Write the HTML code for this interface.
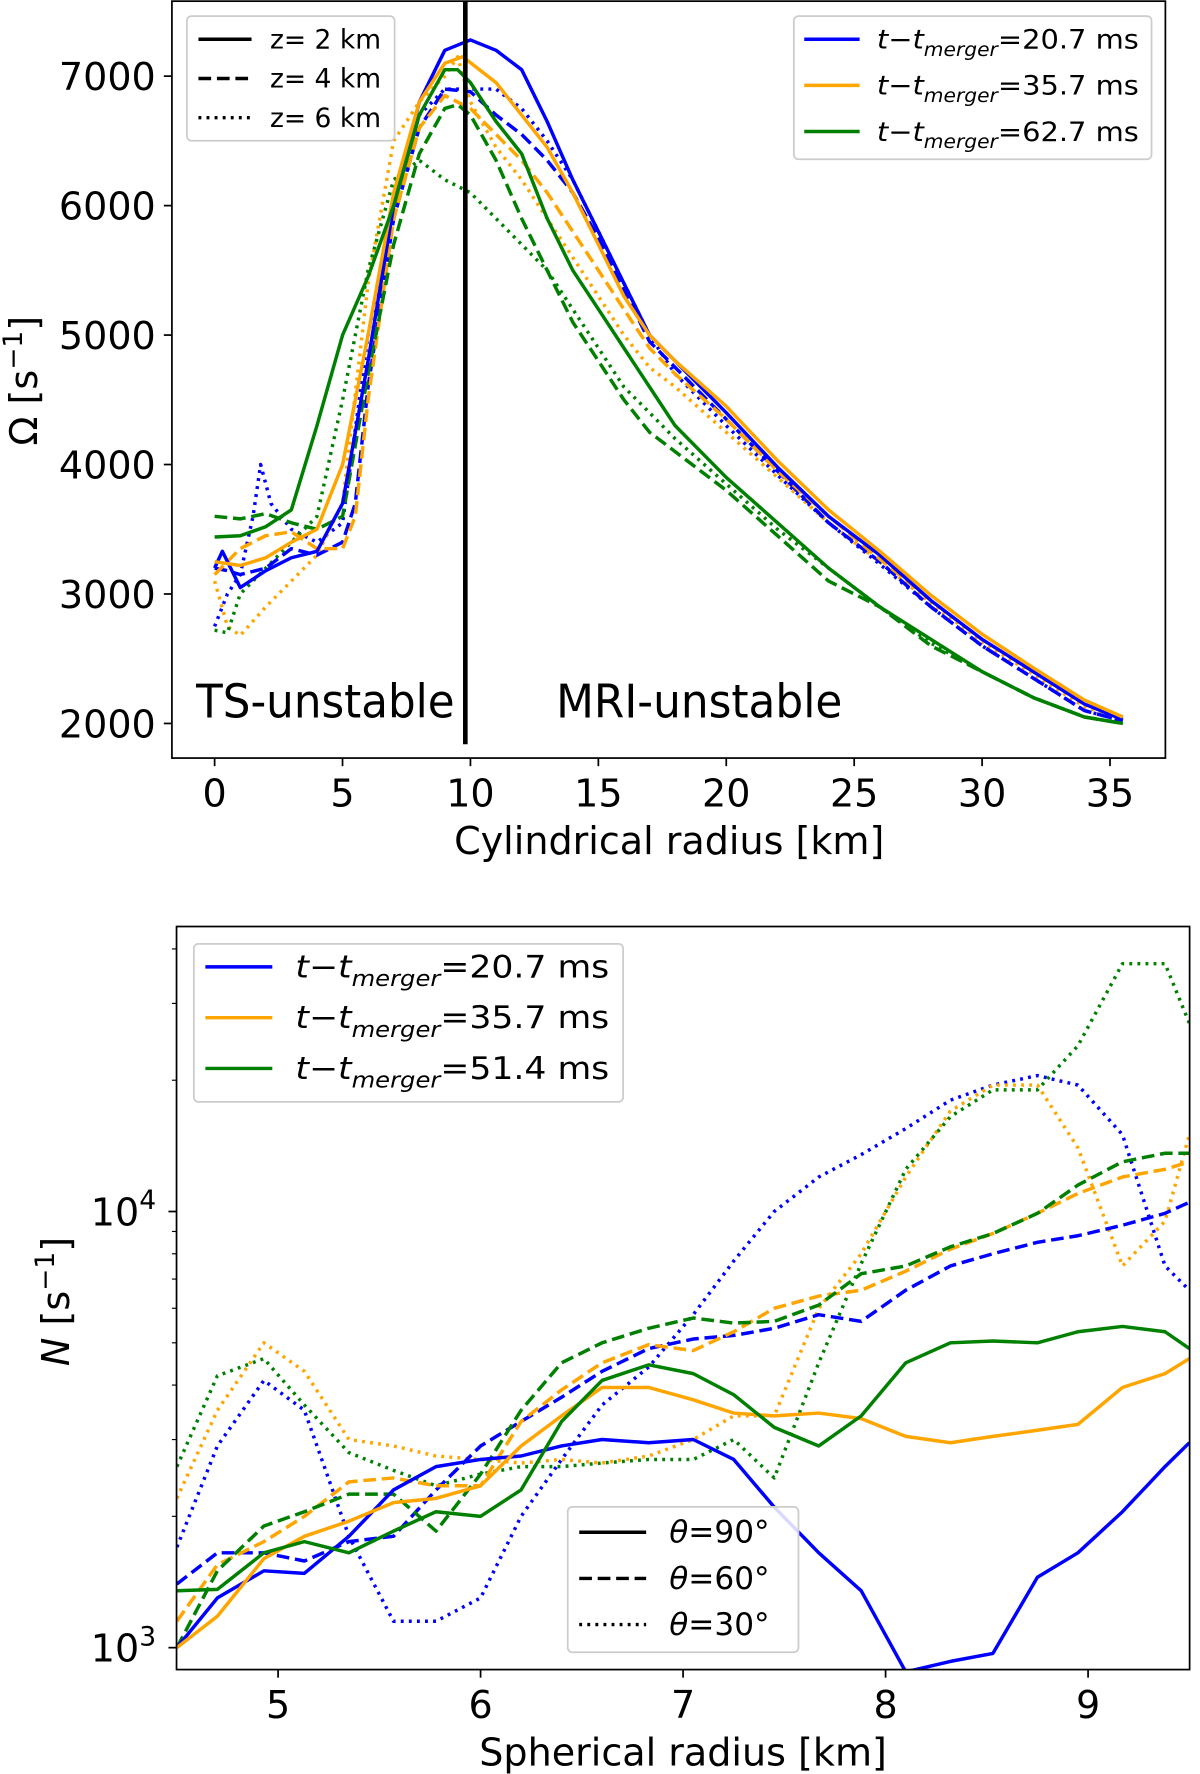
<!DOCTYPE html>
<html><head><meta charset="utf-8"><style>
html,body{margin:0;padding:0;background:#fff}
svg{display:block;font-family:"DejaVu Sans","Liberation Sans",sans-serif}
</style></head><body>
<svg id="fig" width="1200" height="1774" viewBox="0 0 1040 1537.5" preserveAspectRatio="none" xmlns="http://www.w3.org/2000/svg">
<g id="top"></g>
<g id="bot"></g>
</svg>
<script>
// ---- Top chart data ----
const topR = {
 b_s:[0,0.3,1,2,3,4,5,6,7,8,9,10,11,12,13,14,15,16,17,18,20,22,24,26,28,30,32,34,35.5],
 o_s:[0,1,2,3,4,5,6,7,8,9,9.7,11,12,13,14,15,16,17,18,20,22,24,26,28,30,32,34,35.5],
 g_s:[0,1,2,3,4,5,6,7,8,9,9.5,10,11,12,13,14,15,16,17,18,20,22,24,26,28,30,32,34,35.5],
 b_d:[0,0.5,1,2,3,4,5,5.5,6,7,8,9,10,11,12,13,14,15,16,17,18,20,22,24,26,28,30,32,34,35.5],
 o_d:[0,1,2,3,4,5,5.5,6,7,8,9,10,11,12,13,14,15,16,17,18,20,22,24,26,28,30,32,34,35.5],
 g_d:[0,1,2,3,4,5,6,7,8,9,9.5,10,11,12,13,14,15,16,17,18,20,22,24,26,28,30,32,34,35.5],
 b_o:[0,0.5,1,1.5,1.8,2.2,3,4,5,6,7,8,9,10,11,12,13,14,15,16,17,18,20,22,24,26,28,30,32,34,35.5],
 o_o:[0,0.5,1,2,3,4,5,6,7,8,9,9.5,10,11,12,13,14,15,16,17,18,20,22,24,26,28,30,32,34,35.5],
 g_o:[0,0.5,1,2,3,4,5,6,7,8,9,10,11,12,13,14,15,16,17,18,20,22,24,26,28,30,32,34,35.5]
};
const topOmega = {
 b_s:[3200,3330,3050,3180,3280,3330,3700,4800,6000,6800,7200,7280,7200,7050,6650,6200,5800,5400,5000,4800,4400,3980,3600,3300,2950,2650,2400,2150,2030],
 o_s:[3250,3220,3280,3400,3500,4000,5000,6100,6800,7100,7150,6950,6700,6450,6100,5700,5300,5000,4800,4450,4030,3650,3330,2990,2690,2430,2180,2050],
 g_s:[3440,3450,3520,3650,4300,5000,5450,6000,6700,7050,7050,6950,6650,6400,5900,5500,5200,4900,4600,4300,3900,3550,3200,2900,2650,2400,2200,2050,2000],
 b_d:[3200,3180,3150,3200,3350,3300,3400,3700,4600,5900,6600,6900,6880,6700,6550,6350,6100,5750,5350,4950,4750,4350,3950,3550,3250,2900,2600,2350,2100,2020],
 o_d:[3150,3350,3450,3480,3350,3350,3600,4500,5900,6600,6850,6750,6550,6350,6100,5800,5500,5200,4900,4700,4350,3950,3600,3270,2950,2650,2400,2150,2030],
 g_d:[3600,3580,3620,3550,3500,3600,4700,5700,6400,6750,6780,6700,6350,5900,5500,5100,4800,4500,4250,4100,3800,3450,3100,2900,2600,2400,2200,2050,2000],
 b_o:[2750,3000,3150,3600,4000,3700,3500,3400,3550,5000,6000,6700,6900,6900,6900,6750,6500,6200,5800,5400,5000,4700,4300,3920,3550,3230,2900,2600,2350,2100,2020],
 o_o:[3100,2750,2680,2900,3100,3300,3700,5400,6500,6800,7000,7150,6800,6450,6200,5900,5600,5300,5000,4750,4600,4250,3900,3550,3250,2930,2630,2380,2130,2030],
 g_o:[2720,2700,3000,3200,3400,3600,4500,5500,6200,6350,6200,6100,5900,5700,5500,5200,4900,4600,4400,4200,3850,3500,3200,2900,2620,2400,2200,2050,2000]
};
const topXTicks=[0,5,10,15,20,25,30,35];
const topYTicks=[2000,3000,4000,5000,6000,7000];
// ---- Bottom chart data ----
const botR=[4.5,4.7,4.93,5.13,5.35,5.57,5.78,6.0,6.2,6.4,6.6,6.83,7.05,7.25,7.45,7.67,7.88,8.1,8.32,8.53,8.75,8.95,9.17,9.38,9.5];
const botN={
 b_s:[1000,1300,1500,1480,1800,2300,2600,2700,2750,2900,3000,2950,3000,2700,2100,1650,1350,880,930,970,1450,1650,2050,2600,2950],
 o_s:[1000,1180,1600,1800,1950,2150,2200,2350,2900,3400,3950,3950,3700,3450,3400,3450,3350,3050,2950,3050,3150,3250,3950,4250,4600],
 g_s:[1350,1360,1650,1750,1650,1850,2050,2000,2300,3300,4100,4450,4250,3800,3200,2900,3400,4500,5000,5050,5000,5300,5450,5300,4850],
 b_d:[1400,1650,1650,1580,1750,1800,2300,2900,3300,3750,4300,4850,5100,5200,5400,5800,5600,6600,7500,8000,8500,8800,9300,9900,10500],
 o_d:[1150,1550,1750,2000,2400,2450,2350,2350,3300,3900,4500,4950,4800,5300,6000,6400,6600,7300,8200,8900,9900,11000,12000,12500,13000],
 g_d:[1000,1500,1900,2050,2250,2250,1850,2500,3500,4500,5000,5400,5700,5550,5600,6100,7200,7500,8300,8900,9900,11500,13000,13600,13600],
 b_o:[1700,2900,4100,3500,1800,1150,1150,1300,2000,2700,3600,4400,5800,7700,10000,12000,13500,15500,18000,19500,20500,19500,15000,7500,6600],
 o_o:[2200,3500,5000,4300,3000,2900,2750,2700,2650,2700,2650,2750,3000,3400,3400,6000,8000,12000,17000,19500,19500,14000,7500,9500,15000],
 g_o:[2600,4200,4600,3600,2800,2550,2350,2500,2600,2600,2650,2700,2700,3000,2450,4500,7600,12500,16500,19000,19000,24000,37000,37000,27000]
};
const botXTicks=[5,6,7,8,9];

const NS='http://www.w3.org/2000/svg';
const COL={b:'#0000ff',o:'#ffa500',g:'#008000'};
const DASH={s:'',d:'11,5',o:'2.5,4.5'};
function mk(parent,tag,attrs,txt){const e=document.createElementNS(NS,tag);for(const k in attrs)e.setAttribute(k,attrs[k]);if(txt!==undefined)e.textContent=txt;parent.appendChild(e);return e;}

// ===== top =====
const T=document.getElementById('top');
const tL=149,tR=1010,tT=1,tB=657;
const tx=v=>186+v*(962-186)/35;
const ty=v=>627-(v-2000)*(627-66)/5000;
const tclip=mk(T,'clipPath',{id:'tc'});mk(tclip,'rect',{x:tL,y:tT,width:tR-tL,height:tB-tT});
const tlines=mk(T,'g',{'clip-path':'url(#tc)'});
['o','d','s'].forEach(st=>['b','o','g'].forEach(c=>{
 const k=c+'_'+st;const xs=topR[k],ys=topOmega[k];
 const p=xs.map((x,i)=>(i?'L':'M')+tx(x).toFixed(1)+','+ty(ys[i]).toFixed(1)).join('');
 const el=mk(tlines,'path',{d:p,fill:'none',stroke:COL[c],'stroke-width':3,'stroke-dasharray':DASH[st],'stroke-linejoin':'round'});
 
 
}));
const vl=mk(T,'line',{x1:tx(9.8),x2:tx(9.8),y1:tT,y2:645,stroke:'#000','stroke-width':4});


mk(T,'rect',{x:tL,y:tT,width:tR-tL,height:tB-tT,fill:'none',stroke:'#000','stroke-width':1.5});
topXTicks.forEach(v=>{mk(T,'line',{x1:tx(v),x2:tx(v),y1:tB,y2:tB+7,stroke:'#000','stroke-width':1.5});
 const t=mk(T,'text',{x:tx(v),y:699,'font-size':33,'text-anchor':'middle'},String(v));
 
 });
topYTicks.forEach(v=>{mk(T,'line',{x1:tL-7,x2:tL,y1:ty(v),y2:ty(v),stroke:'#000','stroke-width':1.5});
 const t=mk(T,'text',{x:tL-14,y:ty(v)+12,'font-size':33,'text-anchor':'end'},String(v));
 
 });
const xt=mk(T,'text',{x:580,y:740,'font-size':33,'text-anchor':'middle'},'Cylindrical radius [km]');

const yt=mk(T,'text',{transform:'translate(32,330) rotate(-90)','font-size':33,'text-anchor':'middle'});

yt.innerHTML='Ω [s<tspan dy="-13" font-size="23">−1</tspan><tspan dy="13">]</tspan>';
const a1=mk(T,'text',{x:170,y:622,'font-size':40,textLength:224,lengthAdjust:'spacingAndGlyphs'},'TS-unstable');
const a2=mk(T,'text',{x:482,y:622,'font-size':40,textLength:248,lengthAdjust:'spacingAndGlyphs'},'MRI-unstable');

function tLabel(parent,x,y,fs,val,len){
 const t=mk(parent,'text',{x:x,y:y,'font-size':fs,textLength:len,lengthAdjust:'spacingAndGlyphs'});
 t.innerHTML='<tspan font-style="italic">t</tspan>−<tspan font-style="italic">t</tspan><tspan font-style="italic" font-size="'+(fs*0.7)+'" dy="'+(fs*0.28)+'">merger</tspan><tspan dy="'+(-fs*0.28)+'">='+val+' ms</tspan>';
 return t;
}
// top legends
const lg1=mk(T,'g',{});
mk(lg1,'rect',{x:162,y:14,width:180,height:108,rx:4,fill:'#fff',stroke:'#ccc','stroke-width':1.5,'fill-opacity':0.85});
[['s','z= 2 km'],['d','z= 4 km'],['o','z= 6 km']].forEach((e,i)=>{const y=34+i*34;
 mk(lg1,'line',{x1:172,x2:218,y1:y,y2:y,stroke:'#000','stroke-width':3,'stroke-dasharray':DASH[e[0]]});
 mk(lg1,'text',{x:234,y:y+8,'font-size':23},e[1]);});
const lg2=mk(T,'g',{});
mk(lg2,'rect',{x:688,y:14,width:310,height:124,rx:4,fill:'#fff',stroke:'#ccc','stroke-width':1.5,'fill-opacity':0.85});
[['b','20.7'],['o','35.7'],['g','62.7']].forEach((e,i)=>{const y=34+i*40;
 mk(lg2,'line',{x1:697,x2:745,y1:y,y2:y,stroke:COL[e[0]],'stroke-width':3});
 tLabel(lg2,760,y+8,23,e[1],227);});

// ===== bottom =====
const B=document.getElementById('bot');
const bL=153,bR=1031,bT=803,bB=1447;
const bx=v=>241+(v-5)*(943-241)/4;
const by=v=>1428-(Math.log10(v)-3)*378;
const bclip=mk(B,'clipPath',{id:'bc'});mk(bclip,'rect',{x:bL,y:bT,width:bR-bL,height:bB-bT});
const blines=mk(B,'g',{'clip-path':'url(#bc)'});
['o','d','s'].forEach(st=>['b','o','g'].forEach(c=>{
 const k=c+'_'+st;const ys=botN[k];
 const p=botR.map((x,i)=>(i?'L':'M')+bx(x).toFixed(1)+','+by(ys[i]).toFixed(1)).join('');
 const el=mk(blines,'path',{d:p,fill:'none',stroke:COL[c],'stroke-width':3,'stroke-dasharray':DASH[st],'stroke-linejoin':'round'});
 
 
}));
mk(B,'rect',{x:bL,y:bT,width:bR-bL,height:bB-bT,fill:'none',stroke:'#000','stroke-width':1.5});
botXTicks.forEach(v=>{mk(B,'line',{x1:bx(v),x2:bx(v),y1:bB,y2:bB+7,stroke:'#000','stroke-width':1.5});
 const t=mk(B,'text',{x:bx(v),y:1489,'font-size':33,'text-anchor':'middle'},String(v));
 
 });
[1000,10000].forEach(v=>{mk(B,'line',{x1:bL-7,x2:bL,y1:by(v),y2:by(v),stroke:'#000','stroke-width':1.5});
 const t=mk(B,'text',{x:bL-46,y:by(v)+12,'font-size':33,'text-anchor':'middle'});
 t.innerHTML='10<tspan dy="-14" font-size="23">'+(v===1000?3:4)+'</tspan>';
 
 });
[2000,3000,4000,5000,6000,7000,8000,9000,20000,30000,40000].forEach(v=>mk(B,'line',{x1:bL-4,x2:bL,y1:by(v),y2:by(v),stroke:'#000','stroke-width':1}));
const bxt=mk(B,'text',{x:592,y:1530,'font-size':33,'text-anchor':'middle'},'Spherical radius [km]');

const byt=mk(B,'text',{transform:'translate(60,1128) rotate(-90)','font-size':33,'text-anchor':'middle'});

byt.innerHTML='<tspan font-style="italic">N</tspan> [s<tspan dy="-13" font-size="23">−1</tspan><tspan dy="13">]</tspan>';
const lg3=mk(B,'g',{});
mk(lg3,'rect',{x:168,y:818,width:372,height:137,rx:4,fill:'#fff',stroke:'#ccc','stroke-width':1.5,'fill-opacity':0.85});
[['b','20.7'],['o','35.7'],['g','51.4']].forEach((e,i)=>{const y=838+i*44;
 mk(lg3,'line',{x1:178,x2:236,y1:y,y2:y,stroke:COL[e[0]],'stroke-width':3});
 tLabel(lg3,256,y+9,27,e[1],272);});
const lg4=mk(B,'g',{});
mk(lg4,'rect',{x:492,y:1306,width:200,height:126,rx:4,fill:'#fff',stroke:'#ccc','stroke-width':1.5,'fill-opacity':0.85});
[['s','90'],['d','60'],['o','30']].forEach((e,i)=>{const y=1328+i*40;
 mk(lg4,'line',{x1:502,x2:560,y1:y,y2:y,stroke:'#000','stroke-width':3,'stroke-dasharray':DASH[e[0]]});
 const t=mk(lg4,'text',{x:580,y:y+9,'font-size':27});t.innerHTML='<tspan font-style="italic">θ</tspan>='+e[1]+'°';});
</script>
</body></html>
